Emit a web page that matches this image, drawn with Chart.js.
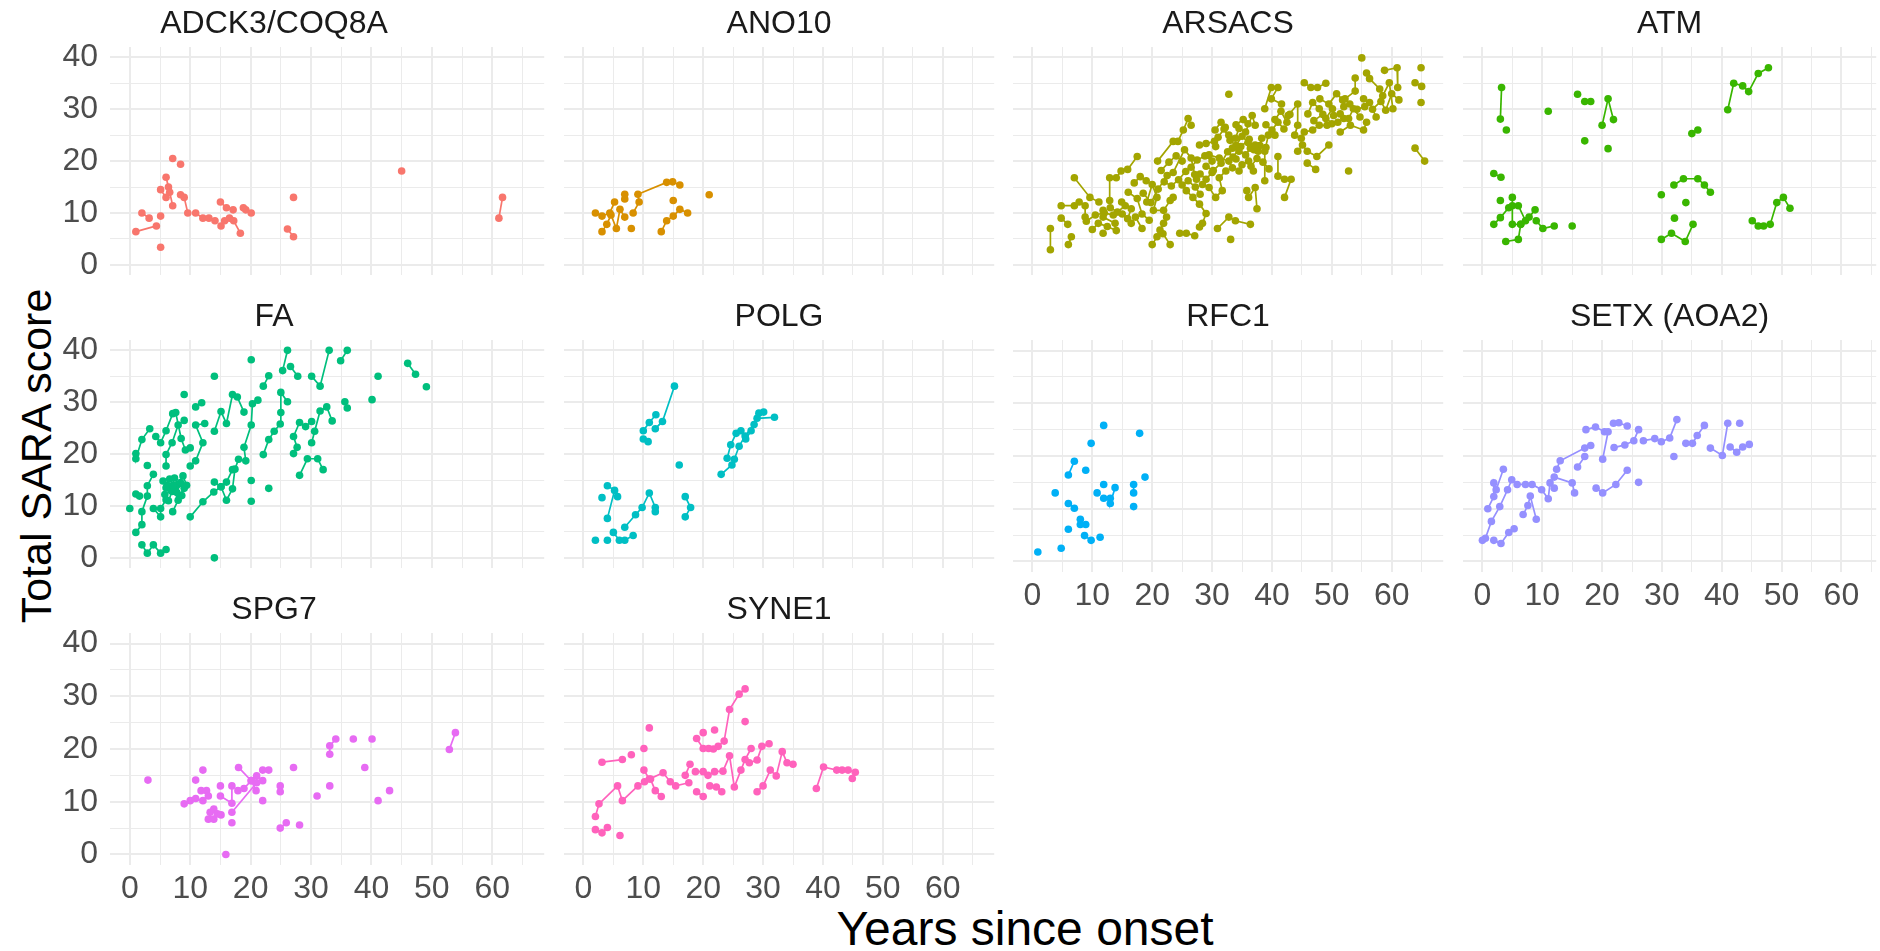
<!DOCTYPE html>
<html>
<head>
<meta charset="utf-8">
<script src="https://cdn.jsdelivr.net/npm/chart.js@4.4.1/dist/chart.umd.min.js"></script>
<style>
  body { margin: 0; width: 1880px; height: 951px; overflow: hidden; background: #fff; position: relative;
         font-family: 'Liberation Sans', Arial, sans-serif; }
  canvas { position: absolute; }
  .axis-title { position: absolute; font-size: 48px; line-height: 1; color: #000; white-space: nowrap;
                transform: translate(-50%, -50%); }
  #ytitle { left: 36px; top: 456px; font-size: 43px; transform: translate(-50%, -50%) rotate(-90deg); }
  #xtitle { left: 1025px; top: 929px; }
</style>
</head>
<body>
<div class="axis-title" id="ytitle">Total SARA score</div>
<div class="axis-title" id="xtitle">Years since onset</div>
<script>
// facets, in ggplot order
const genes = ['ADCK3/COQ8A', 'ANO10', 'ARSACS', 'ATM', 'FA', 'POLG', 'RFC1', 'SETX (AOA2)', 'SPG7', 'SYNE1'];
const geneColors = ['#F8766D', '#D89000', '#A3A500', '#39B600', '#00BF7D', '#00BFC4', '#00B0F6', '#9590FF', '#E76BF3', '#FF62BC'];

// axis ticks: gridlines every 5, labels every 10
const xGrid = [0, 5, 10, 15, 20, 25, 30, 35, 40, 45, 50, 55, 60, 65];
const xLabels = [0, 10, 20, 30, 40, 50, 60];
const yGrid = [0, 5, 10, 15, 20, 25, 30, 35, 40];
const yLabels = [0, 10, 20, 30, 40];

// one inner array per patient: [years since onset, SARA]
const adck3Tracks = [
  [[1.0, 6.4], [4.4, 7.5]], [[2.0, 10.0], [3.2, 9.0]], [[5.1, 3.4]], [[5.1, 9.4]],
  [[5.1, 14.5], [6.0, 13.0], [6.6, 14.0], [7.1, 11.4]], [[6.0, 16.9], [6.4, 15.0]],
  [[7.1, 20.5]], [[8.4, 19.4]], [[8.4, 13.5], [9.0, 13.0], [9.6, 10.0]],
  [[10.9, 10.0], [12.1, 9.0], [13.1, 9.0], [14.1, 8.5]], [[15.0, 12.1], [16.0, 11.0], [17.1, 10.6]],
  [[15.1, 7.5], [15.7, 8.5], [16.5, 9.0], [17.2, 8.5], [18.3, 6.1]], [[18.8, 11.0], [19.2, 10.6], [20.1, 10.0]],
  [[26.1, 6.9], [27.1, 5.4]], [[27.1, 13.0]], [[45.0, 18.1]], [[61.1, 9.0], [61.7, 13.0]]
];

const ano10Tracks = [
  [[2.0, 10.0], [3.1, 9.4], [4.4, 10.0], [5.2, 12.1]],
  [[3.1, 6.4], [3.9, 7.8], [4.6, 9.6], [5.5, 7.0], [6.1, 10.7], [6.9, 9.2]],
  [[6.9, 13.6], [6.9, 12.7]], [[8.0, 7.0]],
  [[8.3, 10.0], [9.3, 12.1], [9.1, 13.6], [13.9, 15.9], [14.9, 16.0], [16.1, 15.4]],
  [[15.0, 12.4]], [[13.0, 6.4], [13.9, 8.5], [15.0, 9.4], [16.1, 10.7], [17.4, 10.0]], [[21.0, 13.5]]
];

const arsacsTracks = [
  [[3.0, 7.0], [3.0, 2.9]], [[4.8, 9.0], [5.9, 7.8]], [[6.0, 3.9], [6.5, 5.4]],
  [[4.8, 11.4], [7.0, 11.4], [7.8, 12.1], [8.8, 11.4], [8.8, 9.2]], [[7.0, 16.8], [9.6, 13.0], [11.1, 12.1]],
  [[11.8, 10.5], [11.8, 9.2], [13.8, 8.0]], [[11.8, 6.1]],
  [[12.9, 12.4], [12.9, 16.8], [14.0, 16.8], [14.8, 18.1], [15.9, 18.4], [17.5, 20.9]],
  [[14.9, 12.1], [16.5, 10.8], [15.9, 8.9], [16.5, 8.0], [17.2, 9.2], [18.3, 7.0]],
  [[19.1, 12.1], [20.0, 15.5], [20.8, 13.0], [20.2, 10.5], [21.9, 10.5], [23.0, 12.4], [23.5, 13.0]],
  [[20.9, 20.0], [23.5, 23.8], [24.3, 23.8], [25.2, 26.0], [26.0, 28.2], [26.5, 26.9]],
  [[20.0, 3.9], [20.8, 5.4], [21.3, 6.7], [21.9, 8.0], [22.4, 9.2]], [[23.0, 3.9], [21.8, 6.0]],
  [[23.5, 17.8], [25.4, 22.2], [26.5, 20.6], [27.1, 17.4], [27.4, 16.5]],
  [[24.6, 6.1], [25.7, 6.1], [27.1, 5.6]],
  [[25.7, 14.3], [26.8, 13.0], [27.9, 11.7], [29.0, 9.9], [28.4, 8.0], [27.9, 7.3]],
  [[27.9, 23.1], [29.0, 23.4], [30.4, 23.8], [30.6, 22.8]],
  [[28.4, 15.5], [29.5, 14.9], [30.6, 13.0], [31.7, 14.3], [31.2, 16.8], [32.3, 18.1]],
  [[29.5, 21.2], [31.2, 20.6], [32.8, 20.0], [33.4, 18.7]],
  [[32.8, 25.0], [33.9, 24.4], [34.5, 26.3], [35.6, 25.6], [36.7, 28.8], [37.2, 26.9]],
  [[33.4, 22.5], [34.5, 21.9], [35.6, 21.2], [36.4, 22.5], [37.2, 23.1], [37.7, 21.9], [38.3, 24.4]],
  [[34.5, 18.1], [35.0, 19.3], [36.1, 20.0], [36.9, 18.1]],
  [[35.8, 14.3], [36.1, 13.0], [37.2, 14.9], [37.5, 10.8]],
  [[30.9, 7.0], [32.8, 9.2], [33.9, 8.5], [36.4, 7.8]], [[33.1, 4.9]],
  [[38.8, 16.2], [38.8, 21.9], [39.4, 25.0], [40.5, 25.0]],
  [[38.8, 30.1], [39.9, 34.2], [41.0, 34.2], [39.9, 32.0], [41.6, 31.0]],
  [[41.0, 20.9], [41.0, 17.1], [42.1, 16.5], [43.2, 16.5], [42.1, 13.0]],
  [[42.7, 28.8], [44.3, 31.0], [44.3, 26.9], [43.8, 25.0], [44.9, 24.4]],
  [[45.4, 35.1], [46.5, 34.2], [47.6, 34.2], [49.0, 35.0]],
  [[46.0, 29.1], [46.8, 31.3], [47.9, 30.1], [49.0, 28.2], [50.1, 30.1]],
  [[44.3, 21.9], [45.1, 23.1], [45.9, 21.9], [47.5, 20.9], [49.5, 23.1]], [[45.9, 19.6], [47.3, 18.4]],
  [[45.4, 25.6], [46.8, 26.0], [47.9, 26.9], [49.2, 26.9]],
  [[50.3, 28.8], [51.4, 29.1], [52.0, 28.2], [52.8, 28.2], [53.6, 30.1], [54.7, 28.5]],
  [[52.2, 32.0], [53.9, 33.5], [53.9, 36.0]], [[55.3, 32.0], [56.3, 31.3], [57.4, 28.5]],
  [[51.4, 25.6], [53.1, 26.9], [55.3, 26.0], [55.8, 27.5]],
  [[55.8, 37.0], [56.3, 35.9], [58.0, 33.9], [58.5, 32.6], [59.6, 35.1], [60.2, 30.1]],
  [[58.8, 37.5], [60.9, 38.0], [61.0, 34.2]], [[55.0, 39.9]], [[64.9, 38.0]],
  [[63.9, 35.1], [65.0, 34.4]], [[64.9, 31.3]], [[63.9, 22.5], [65.5, 20.0]], [[52.8, 18.1]], [[32.8, 32.9]],
  [[31.0, 24.6], [32.0, 26.2], [33.0, 24.0], [34.0, 23.0], [35.0, 24.8], [36.0, 23.6]],
  [[33.5, 20.8], [34.8, 22.8], [36.2, 24.2], [37.0, 22.2], [38.0, 23.0], [39.0, 22.6]],
  [[29.0, 19.0], [30.2, 18.2], [31.5, 19.6], [32.6, 21.8], [34.0, 20.4]],
  [[26.5, 18.8], [27.5, 20.2], [28.8, 21.0], [30.0, 20.0]],
  [[25.0, 15.4], [26.0, 16.2], [27.2, 15.0], [28.0, 13.6]],
  [[22.0, 16.0], [23.2, 15.2], [24.4, 16.4], [25.6, 18.0]],
  [[18.5, 13.8], [19.8, 12.0], [21.0, 14.6], [22.5, 17.2]],
  [[16.0, 14.0], [17.5, 12.8], [18.3, 9.8], [19.5, 8.6]],
  [[9.0, 8.4], [10.5, 9.6], [12.0, 10.0], [13.5, 9.6], [15.0, 9.8]],
  [[40.5, 28.0], [41.5, 29.6], [42.5, 27.5], [43.0, 29.0]],
  [[48.0, 32.0], [49.5, 31.0], [50.8, 33.0], [51.8, 31.8]],
  [[56.8, 30.0], [58.2, 31.5], [59.0, 29.8], [60.0, 33.0], [61.2, 31.8]],
  [[10.0, 6.8], [11.0, 8.0], [12.5, 7.4], [14.0, 6.6]],
  [[13.0, 11.0], [14.2, 10.2], [15.5, 11.4]],
  [[17.0, 15.8], [18.0, 17.0], [19.0, 16.2]],
  [[21.5, 18.2], [22.8, 19.8], [24.0, 21.0], [25.0, 20.0]],
  [[28.0, 17.5], [29.0, 16.5], [30.0, 17.8]],
  [[30.5, 26.0], [31.5, 27.5], [32.2, 26.5]],
  [[36.5, 19.0], [37.5, 20.5], [38.5, 19.8], [39.5, 18.5]],
  [[34.0, 27.0], [35.2, 28.0], [36.0, 27.2]],
  [[39.0, 27.0], [40.0, 26.0], [41.0, 27.5], [42.0, 26.2]],
  [[47.0, 27.8], [48.5, 29.0], [50.0, 27.2], [51.0, 27.5]],
  [[52.0, 30.5], [53.0, 31.0], [54.2, 30.0], [55.5, 30.5]]
];

const atmTracks = [
  [[3.2, 34.2], [3.0, 28.1]], [[4.0, 26.0]], [[11.0, 29.6]], [[15.9, 32.9]], [[17.1, 31.5], [18.1, 31.5]],
  [[17.1, 23.9]], [[20.0, 26.9], [21.0, 32.0], [21.9, 28.0]], [[21.0, 22.4]],
  [[1.9, 17.6], [3.1, 16.9]], [[3.0, 12.4]],
  [[1.9, 7.8], [3.0, 9.1], [4.4, 11.0], [5.0, 11.4], [6.0, 11.4], [7.2, 8.5]],
  [[5.0, 13.0], [5.0, 7.8], [6.4, 7.8]],
  [[3.9, 4.5], [6.0, 4.9], [6.4, 7.8], [7.8, 9.2], [8.8, 10.6]],
  [[9.0, 8.5], [10.1, 7.0], [12.0, 7.5]], [[15.0, 7.5]],
  [[29.9, 13.5]], [[32.0, 15.4], [33.6, 16.6], [36.0, 16.6], [37.1, 15.4], [38.1, 14.0]],
  [[34.0, 12.0]], [[32.1, 9.0]], [[29.9, 4.9], [31.6, 6.1], [33.9, 4.5], [35.2, 7.8]],
  [[35.0, 25.3], [36.0, 26.0]],
  [[41.0, 29.9], [42.0, 35.0], [43.5, 34.5], [44.5, 33.4], [46.1, 36.9], [47.8, 38.0]],
  [[45.1, 8.5], [46.1, 7.5], [47.0, 7.5], [48.1, 7.8], [49.2, 12.0], [50.3, 13.0], [51.4, 10.9]]
];

const faTracks = [
  [[0.0, 9.5]], [[1.0, 4.9], [2.0, 6.4], [2.0, 8.9], [2.9, 11.9], [2.9, 13.9], [3.9, 16.1]],
  [[1.0, 20.1], [1.0, 19.1], [2.0, 22.8], [3.3, 24.9]], [[1.0, 12.3], [1.6, 11.9]],
  [[2.0, 2.5], [2.9, 0.9], [3.9, 2.5], [5.1, 0.9], [6.0, 1.6]], [[2.9, 17.8]],
  [[4.3, 23.4], [5.1, 22.2], [6.0, 24.5], [7.1, 27.8]], [[3.9, 9.5], [5.1, 7.9], [5.1, 9.5], [6.0, 11.2]],
  [[6.0, 17.7], [6.0, 19.9], [7.0, 22.2], [8.0, 25.6], [9.0, 26.5]],
  [[5.5, 14.8], [6.0, 13.5], [6.6, 15.2], [7.2, 14.0], [7.8, 12.6], [8.4, 14.5]],
  [[5.8, 12.2], [6.4, 11.0], [7.0, 12.8], [7.6, 13.8], [8.2, 12.0], [9.0, 13.4]],
  [[6.2, 14.0], [6.8, 13.0], [7.4, 15.4], [8.0, 14.2], [8.8, 15.8], [9.4, 14.0]],
  [[7.1, 8.9], [8.0, 11.1], [8.6, 12.0]], [[7.6, 28.0], [8.5, 23.0], [9.2, 20.8], [10.0, 21.2]],
  [[9.0, 31.5]], [[10.0, 7.9], [12.1, 10.8], [13.9, 12.7], [15.1, 13.7], [16.0, 14.6], [17.0, 17.0]],
  [[10.9, 29.1], [11.9, 29.9]], [[10.0, 17.7], [10.9, 18.7], [12.1, 22.2], [10.9, 25.6], [12.4, 25.9]],
  [[14.0, 35.0]], [[14.0, 0.0]],
  [[14.0, 24.4], [15.1, 28.2], [16.0, 25.9], [17.0, 31.5], [17.8, 31.0], [18.9, 28.1]],
  [[14.0, 14.6], [15.1, 13.7], [16.0, 11.1], [17.0, 13.3], [17.4, 17.1], [18.0, 19.0], [19.2, 18.7],
   [18.9, 21.3], [20.1, 25.6], [20.3, 29.7], [21.2, 30.4]],
  [[20.1, 38.2]], [[20.1, 14.9]], [[20.1, 10.9]], [[22.1, 33.1], [23.0, 35.1]],
  [[22.1, 19.9], [23.0, 22.8], [23.9, 24.4], [24.9, 25.8], [25.0, 28.0], [25.0, 31.9], [26.1, 30.1]],
  [[23.0, 13.4]], [[25.3, 36.1], [26.1, 40.0]], [[26.6, 36.9], [27.8, 35.0]],
  [[27.1, 20.1], [27.7, 21.3], [27.1, 23.4], [28.1, 26.1], [29.1, 25.3], [30.1, 26.3]],
  [[28.1, 15.9], [29.4, 19.1], [31.1, 19.1], [32.0, 17.0]],
  [[30.1, 35.0], [31.5, 33.1], [33.0, 40.0]], [[34.9, 38.0], [36.0, 40.0]],
  [[30.1, 22.2], [30.6, 24.4], [31.5, 28.3], [32.6, 29.1], [33.5, 26.4]],
  [[35.6, 30.1], [36.0, 28.9]], [[40.1, 30.5]], [[41.1, 35.0]], [[46.0, 37.5], [47.3, 35.4]], [[49.1, 33.0]]
];

const polgTracks = [
  [[2.0, 3.4]], [[4.0, 3.4]], [[3.1, 11.6]], [[4.0, 13.9], [5.2, 13.0], [4.0, 7.6]], [[5.7, 11.8]],
  [[5.0, 4.9], [6.0, 3.4], [6.9, 3.4], [8.3, 4.3]],
  [[6.9, 5.9], [8.7, 8.3], [9.8, 9.7], [11.0, 12.5], [12.0, 9.7], [12.0, 8.9]],
  [[10.0, 22.9], [10.8, 22.4]], [[10.0, 24.5], [11.0, 26.1], [12.1, 27.6]],
  [[12.0, 24.9], [13.2, 26.3], [15.2, 33.1]], [[16.0, 17.9]], [[17.0, 11.8], [17.9, 9.7], [17.0, 7.9]],
  [[23.0, 16.1], [24.8, 17.9], [25.2, 19.0], [26.0, 21.5], [27.0, 23.5], [28.5, 25.7], [29.3, 27.9], [30.1, 28.1]],
  [[24.0, 19.2], [24.6, 21.8], [25.5, 24.0], [26.3, 24.5], [27.1, 22.9], [28.0, 24.5], [29.0, 26.9], [31.9, 27.1]]
];

const rfc1Tracks = [
  [[0.9, 1.8]], [[4.8, 2.5]], [[3.8, 13.0]], [[6.0, 16.4], [7.0, 19.0]], [[8.9, 17.3]], [[9.8, 22.4]],
  [[11.9, 25.8]], [[17.9, 24.3]], [[18.8, 16.0]], [[6.0, 11.0], [7.0, 10.1]], [[8.0, 8.0], [8.0, 7.0], [8.9, 7.0]],
  [[8.7, 4.9], [9.8, 4.0]], [[11.3, 4.6]], [[6.0, 6.1]], [[10.8, 13.0]],
  [[11.9, 14.6]], [[11.9, 12.0], [13.0, 12.0], [13.0, 11.0], [13.8, 14.0]],
  [[16.9, 14.6], [16.9, 13.0]], [[16.9, 10.4]]
];

const setxTracks = [
  [[0.0, 4.0], [0.5, 4.4], [1.5, 7.6], [2.9, 10.4], [4.2, 13.6], [4.9, 15.5]],
  [[0.9, 10.0], [1.9, 12.3], [1.9, 14.9], [2.3, 13.6], [3.5, 17.5]],
  [[1.9, 4.0], [3.1, 3.4], [4.4, 5.5], [5.3, 6.2]], [[6.8, 8.9], [7.6, 10.6], [8.0, 12.4], [9.0, 8.0]],
  [[5.8, 14.6], [7.2, 14.6], [8.3, 14.6], [9.9, 13.6], [11.0, 11.9], [11.3, 14.9], [12.0, 13.9]],
  [[12.4, 17.5], [13.0, 19.1], [17.1, 21.5], [18.1, 22.0]],
  [[12.0, 16.0], [15.0, 14.9], [15.4, 13.0]], [[15.9, 17.9], [17.1, 19.9]],
  [[17.3, 25.0], [18.9, 25.5], [20.4, 24.6], [21.0, 24.6], [20.1, 19.4]],
  [[22.0, 21.6], [23.8, 22.1], [25.3, 22.9], [26.1, 25.0]], [[21.9, 26.2], [22.8, 26.3], [24.2, 25.7]],
  [[26.9, 22.9], [28.8, 23.3], [29.9, 22.7], [31.3, 23.4], [32.5, 26.9]], [[32.0, 19.9]],
  [[34.0, 22.4], [35.1, 22.4], [35.9, 23.9], [37.1, 25.8]],
  [[38.1, 21.5], [40.1, 20.1], [41.0, 26.2]], [[41.4, 21.7], [42.5, 20.7], [43.5, 21.7], [44.6, 22.2]],
  [[43.0, 26.2]], [[19.0, 13.9], [20.1, 13.0], [22.3, 14.6], [24.2, 17.3]], [[26.1, 15.0]]
];

const spg7Tracks = [
  [[3.0, 14.1]], [[9.0, 9.6], [10.0, 10.2], [10.9, 10.6], [12.1, 10.2]], [[10.9, 14.1]], [[12.1, 16.0]],
  [[11.8, 12.1], [12.7, 12.1], [13.0, 11.1]],
  [[13.3, 8.0], [13.9, 8.6], [13.0, 6.7], [13.9, 6.7], [14.5, 7.7], [15.1, 7.5]],
  [[15.0, 13.0]], [[15.0, 11.1], [16.9, 9.7], [16.9, 13.0]], [[16.9, 8.0], [21.0, 13.6]], [[16.9, 6.0]], [[15.9, 0.0]],
  [[18.0, 16.5], [20.1, 14.0], [20.9, 12.1]], [[17.9, 12.1], [18.9, 12.5], [20.1, 14.0], [21.0, 14.9], [22.0, 14.0]],
  [[22.0, 16.0], [23.0, 16.0]], [[22.0, 10.2]], [[24.9, 13.0], [24.9, 11.9]], [[24.9, 5.0], [25.9, 6.0]],
  [[27.1, 16.5]], [[28.1, 5.6]], [[31.0, 11.1]], [[33.1, 13.0]], [[33.1, 19.0], [33.1, 20.6], [34.1, 21.9]],
  [[37.0, 21.9]], [[40.1, 21.9]], [[38.9, 16.5]], [[41.1, 10.2]], [[43.0, 12.1]], [[52.9, 19.9], [53.9, 23.1]]
];

const syne1Tracks = [
  [[2.0, 4.7], [3.1, 4.1], [4.0, 5.1]],
  [[2.0, 7.2], [2.6, 9.6], [5.7, 13.0], [6.5, 10.2], [9.1, 13.0], [10.2, 13.8], [11.2, 14.3], [12.0, 12.1], [13.0, 11.0]],
  [[3.1, 17.5], [6.5, 18.0]], [[6.1, 3.6]], [[8.0, 18.9]], [[10.1, 20.1]], [[11.0, 24.0]],
  [[10.1, 16.0], [11.0, 14.3], [13.3, 15.5], [14.5, 13.8], [15.4, 13.0], [17.6, 13.6]], [[17.0, 15.0], [17.8, 17.1]],
  [[18.9, 22.0], [20.0, 20.1], [20.9, 20.1], [21.7, 20.0], [22.5, 20.5], [23.5, 21.5], [24.4, 27.5], [26.0, 30.4], [27.0, 31.4]],
  [[20.0, 23.1]], [[21.9, 23.6]], [[27.0, 25.2]],
  [[18.7, 15.7], [20.0, 15.7], [20.8, 15.0], [21.9, 15.7], [23.3, 15.8], [24.4, 18.7], [25.2, 12.8], [26.3, 16.0], [27.0, 18.0], [28.0, 20.1]],
  [[27.7, 17.4], [29.0, 17.9], [29.8, 20.5], [31.0, 21.0]], [[18.9, 11.9], [20.0, 11.0]],
  [[21.1, 13.0], [22.2, 12.8], [23.1, 11.9]],
  [[29.0, 11.9], [30.0, 13.0], [31.2, 16.0], [32.2, 14.9], [33.2, 19.5], [34.0, 17.4], [35.0, 17.1]],
  [[38.9, 12.5], [40.1, 16.6], [42.3, 16.0], [43.2, 16.0], [44.2, 16.0], [45.4, 15.6], [44.9, 14.4]]
];

const geneTracks = [adck3Tracks, ano10Tracks, arsacsTracks, atmTracks, faTracks,
                    polgTracks, rfc1Tracks, setxTracks, spg7Tracks, syne1Tracks];

// facet layout (pixels)
const COL_X0 = [129.8, 579.5, 1029.3, 1479];   // where x = 0 falls in each column
const ROW_TOP = [47.2, 340.4, 633.4];
const PX_PER_YEAR = 6.093;
const PANEL_H = 232.1;
const X_MIN = -3.28, X_MAX = 68.6, Y_MIN = -2, Y_MAX = 42;
const TITLE_H = 42, YAX_W = 110, XAX_H = 62;
const PAGE_W = 1880;
const bottomPanels = [6, 7, 8, 9];

Chart.defaults.font.family = "'Liberation Sans', Arial, sans-serif";

function facet(i) {
  const row = Math.floor(i / 4), col = i % 4;
  const hasY = col === 0;
  const hasX = bottomPanels.includes(i);
  const x0 = COL_X0[col];
  const panelLeft = x0 + X_MIN * PX_PER_YEAR;
  const panelRight = Math.min(x0 + X_MAX * PX_PER_YEAR, PAGE_W);
  const xMax = (panelRight - x0) / PX_PER_YEAR;

  const canvas = document.createElement('canvas');
  const left = panelLeft - (hasY ? YAX_W : 0);
  const top = ROW_TOP[row] - TITLE_H;
  const w = Math.round(panelRight - left);
  const h = Math.round(TITLE_H + PANEL_H + (hasX ? XAX_H : 0));
  canvas.width = w; canvas.height = h;
  canvas.style.left = left + 'px';
  canvas.style.top = top + 'px';
  canvas.style.width = w + 'px';
  canvas.style.height = h + 'px';
  document.body.appendChild(canvas);

  const color = geneColors[i];
  const datasets = geneTracks[i].map(track => ({
    data: track.map(([x, y]) => ({ x, y })),
    showLine: true,
    borderColor: color,
    backgroundColor: color,
    borderWidth: 1.7,
    pointRadius: 3.8,
    pointBorderWidth: 0,
    pointHoverRadius: 3.8
  }));

  const grid = {
    color: '#EBEBEB',
    lineWidth: c => (c.tick && c.tick.value % 10 === 0) ? 2 : 1,
    drawTicks: false
  };
  const noPad = s => { s.paddingLeft = 0; s.paddingRight = 0; s.paddingTop = 0; s.paddingBottom = 0; };

  return new Chart(canvas, {
    type: 'scatter',
    data: { datasets },
    options: {
      responsive: false,
      animation: false,
      events: [],
      layout: { padding: 0 },
      plugins: {
        legend: { display: false },
        tooltip: { enabled: false },
        title: {
          display: true,
          text: genes[i],
          color: '#1A1A1A',
          font: { size: 32, weight: 'normal' },
          padding: { top: 0, bottom: TITLE_H - 38.4 }
        }
      },
      scales: {
        x: {
          type: 'linear',
          min: X_MIN, max: xMax,
          grid, border: { display: false },
          afterBuildTicks: s => { s.ticks = xGrid.map(v => ({ value: v })); },
          afterFit: s => { s.height = hasX ? XAX_H : 0; noPad(s); },
          ticks: {
            display: hasX, autoSkip: false, maxRotation: 0, minRotation: 0,
            padding: 5, color: '#4D4D4D', font: { size: 32 },
            callback: v => xLabels.includes(v) ? String(v) : ''
          }
        },
        y: {
          type: 'linear',
          min: Y_MIN, max: Y_MAX,
          grid, border: { display: false },
          afterBuildTicks: s => { s.ticks = yGrid.map(v => ({ value: v })); },
          afterFit: s => { s.width = hasY ? YAX_W : 0; noPad(s); },
          ticks: {
            display: hasY, autoSkip: false,
            padding: 12, color: '#4D4D4D', font: { size: 32 },
            callback: v => yLabels.includes(v) ? String(v) : ''
          }
        }
      }
    }
  });
}

genes.forEach((g, i) => facet(i));
</script>
</body>
</html>
